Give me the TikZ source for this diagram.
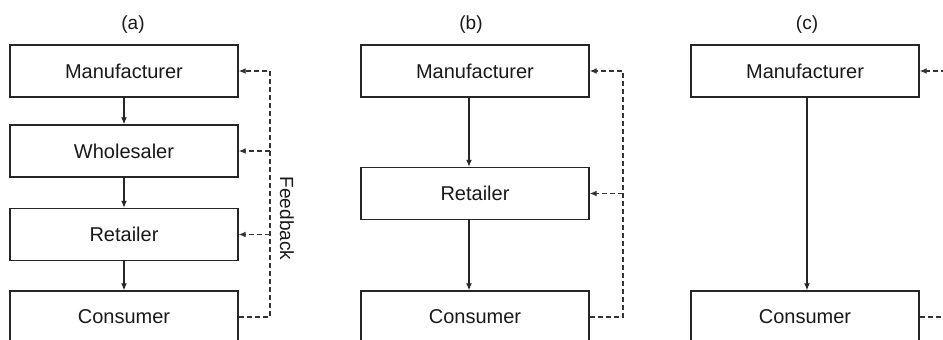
\documentclass[tikz,border=0pt]{standalone}
\usepackage{fontspec}
\setmainfont{Liberation Sans}
\usetikzlibrary{arrows.meta}
\begin{document}
\begin{tikzpicture}[x=1pt,y=1pt,
  box/.style={draw=black!85, line width=1.4pt, minimum width=228pt, minimum height=52pt, inner sep=0pt, font=\fontsize{20}{24}\selectfont, text=black!90},
  flow/.style={draw=black!85, line width=1.3pt, -{Latex[length=7pt,width=6pt]}},
  fb/.style={draw=black!80, line width=1.3pt, dash pattern=on 5pt off 3pt},
  fbarrow/.style={fb, -{Latex[length=7pt,width=6pt]}},
  lbl/.style={font=\fontsize{19}{23}\selectfont, text=black!90}]
\useasboundingbox (0,0) rectangle (943,340);
\fill[white] (0,0) rectangle (943,340);
\clip (0,0) rectangle (943,340);
% (a)
\node[lbl] (la) at (133,315) {(a)};
\node[box] (manA) at (124,269) {Manufacturer};
\node[box] (wholA) at (124,189) {Wholesaler};
\node[box] (retA) at (124,105.5) {Retailer};
\node[box] (conA) at (124,23) {Consumer};
\draw[flow] (manA) -- (wholA);
\draw[flow] (wholA) -- (retA);
\draw[flow] (retA) -- (conA);
\coordinate (fa) at (270,0);
\draw[fbarrow] (conA.east) -- (conA.east -| fa) -- (manA.east -| fa) -- (manA.east);
\draw[fbarrow] (wholA.east -| fa) -- (wholA.east);
\draw[fbarrow] (retA.east -| fa) -- (retA.east);
\node[lbl, rotate=-90] (fbl) at (287,121.5) {Feedback};
% (b)
\node[lbl] (lb) at (471,315) {(b)};
\node[box] (manB) at (475,269) {Manufacturer};
\node[box] (retB) at (475,146.5) {Retailer};
\node[box] (conB) at (475,23) {Consumer};
\draw[flow] ([xshift=-6pt]manB.south) -- ([xshift=-6pt]retB.north);
\draw[flow] ([xshift=-6pt]retB.south) -- ([xshift=-6pt]conB.north);
\coordinate (fbx) at (623,0);
\draw[fbarrow] (conB.east) -- (conB.east -| fbx) -- (manB.east -| fbx) -- (manB.east);
\draw[fbarrow] (retB.east -| fbx) -- (retB.east);
% (c)
\node[lbl] (lc) at (807,315) {(c)};
\node[box] (manC) at (805,269) {Manufacturer};
\node[box] (conC) at (805,23) {Consumer};
\draw[flow] ([xshift=2pt]manC.south) -- ([xshift=2pt]conC.north);
\coordinate (fcx) at (958,0);
\draw[fbarrow] (conC.east) -- (conC.east -| fcx) -- (manC.east -| fcx) -- (manC.east);
\end{tikzpicture}
\end{document}
